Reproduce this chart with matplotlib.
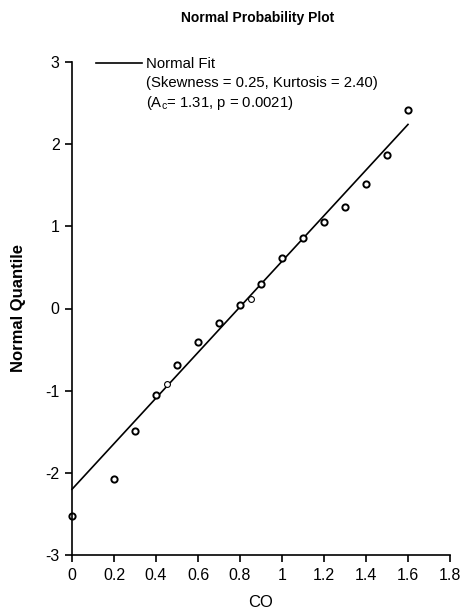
import matplotlib
matplotlib.use("Agg")
import matplotlib.pyplot as plt
from matplotlib.lines import Line2D

plt.rcParams['font.family'] = ['Liberation Sans', 'DejaVu Sans']

# data
co = [0.0, 0.2, 0.3, 0.4, 0.5, 0.6, 0.7, 0.8, 0.9, 1.0, 1.1, 1.2, 1.3, 1.4, 1.5, 1.6]
quantile = [-2.52, -2.07, -1.49, -1.05, -0.69, -0.41, -0.18, 0.04, 0.30, 0.61,
            0.86, 1.05, 1.23, 1.51, 1.87, 2.41]
# two fainter points
co_thin = [0.45, 0.85]
quantile_thin = [-0.92, 0.11]
# fitted line end points
fit_x = [0.0, 1.6]
fit_y = [-2.20, 2.24]

xticks = [0, 0.2, 0.4, 0.6, 0.8, 1, 1.2, 1.4, 1.6, 1.8]
xticklabels = ["0", "0.2", "0.4", "0.6", "0.8", "1", "1.2", "1.4", "1.6", "1.8"]
yticks = [-3, -2, -1, 0, 1, 2, 3]

fig = plt.figure(figsize=(4.63, 6.12), dpi=100)
ax = fig.add_axes([72/463, 1-555/612, 378/463, 493/612])

fit_line, = ax.plot(fit_x, fit_y, color="black", lw=1.2, clip_on=False)
ax.plot(co, quantile, 'o', ms=4.5, mfc="white", mec="black", mew=1.4, clip_on=False)
ax.plot(co_thin, quantile_thin, 'o', ms=4.2, mfc="white", mec="black", mew=0.8, clip_on=False)

ax.set_xlim(0, 1.8)
ax.set_ylim(-3, 3)
ax.set_xticks(xticks)
ax.set_xticklabels(xticklabels)
ax.set_yticks(yticks)
ax.set_yticklabels([str(t) for t in yticks])

for s in ["top", "right"]:
    ax.spines[s].set_visible(False)
for s in ["left", "bottom"]:
    ax.spines[s].set_linewidth(1.2)
ax.tick_params(direction="out", length=5, width=1.2, labelsize=11.5, pad=4)

ax.set_xlabel("CO", fontsize=12, labelpad=9)
ax.set_ylabel("Normal Quantile", fontsize=12, fontweight="bold", labelpad=14)
fig.text(0.557, 1-18/612, "Normal Probability Plot", ha="center", va="center",
         fontsize=10, fontweight="bold")

blank = Line2D([], [], color="none")
ax.legend([fit_line, blank, blank],
          ["Normal Fit", "(Skewness = 0.25, Kurtosis = 2.40)",
           r"(A$_{\mathregular{c}}$= 1.31, p = 0.0021)"],
          loc="upper left", bbox_to_anchor=(0.063, 1.01), frameon=False,
          borderpad=0, borderaxespad=0, handlelength=3.1, handletextpad=0.3,
          labelspacing=0.3, fontsize=10.7)

fig.savefig("out.png", dpi=100)
